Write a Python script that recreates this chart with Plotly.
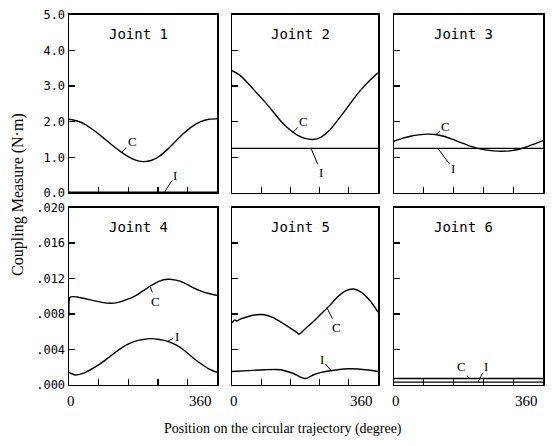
import plotly.graph_objects as go

W, H = 553, 446

# ---------------- data ----------------
deg = [0, 20, 40, 60, 80, 100, 120, 140, 160, 180, 200, 220, 240, 260, 280, 300, 320, 340, 360]

j1_c = [2.07, 2.02, 1.92, 1.76, 1.58, 1.39, 1.21, 1.05, 0.93, 0.88, 0.91, 1.03, 1.23, 1.46, 1.68, 1.87, 2.00, 2.07, 2.08]
j1_i = [0.02] * len(deg)

j2_c = [3.43, 3.30, 3.07, 2.82, 2.57, 2.30, 2.02, 1.80, 1.63, 1.53, 1.50, 1.57, 1.75, 2.03, 2.33, 2.64, 2.92, 3.16, 3.37]
j2_i = [1.25] * len(deg)

j3_c = [1.45, 1.53, 1.59, 1.63, 1.65, 1.64, 1.59, 1.51, 1.42, 1.33, 1.26, 1.21, 1.18, 1.17, 1.18, 1.22, 1.29, 1.38, 1.47]
j3_i = [1.25] * len(deg)

j4_c_deg = [0, 3, 20, 40, 60, 80, 100, 120, 140, 160, 180, 200, 220, 240, 260, 280, 300, 320, 340, 360]
j4_c = [0.0078, 0.0099, 0.0099, 0.0097, 0.0095, 0.0093, 0.0092, 0.0093, 0.0096, 0.0100, 0.0106,
        0.0112, 0.0117, 0.0119, 0.0118, 0.0115, 0.0110, 0.0106, 0.0103, 0.0101]
j4_i_deg = [0, 15, 40, 60, 80, 100, 120, 140, 160, 180, 200, 220, 240, 260, 280, 300, 320, 340, 360]
j4_i = [0.0014, 0.0011, 0.0014, 0.0019, 0.0025, 0.0032, 0.0039, 0.0045, 0.0049, 0.0051,
        0.0052, 0.0051, 0.0049, 0.0045, 0.0039, 0.0031, 0.0024, 0.0018, 0.0014]

j5_c_deg = [0, 6, 12, 20, 40, 60, 80, 100, 120, 140, 160, 165, 180, 200, 220, 240, 260, 280, 300, 320, 340, 360]
j5_c = [0.0070, 0.0073, 0.0072, 0.0074, 0.0077, 0.0079, 0.0079, 0.0076, 0.0071, 0.0065, 0.0059,
        0.0057, 0.0063, 0.0071, 0.0080, 0.0089, 0.0099, 0.0106, 0.0108, 0.0104, 0.0095, 0.0082]
j5_i_deg = [0, 40, 80, 120, 150, 180, 200, 220, 260, 290, 330, 360]
j5_i = [0.0015, 0.0016, 0.0017, 0.0017, 0.0013, 0.0007, 0.0011, 0.0014, 0.0017, 0.0018, 0.0017, 0.0015]

j6_c = [0.0007] * len(deg)
j6_i = [0.0003] * len(deg)

titles = ["Joint 1", "Joint 2", "Joint 3", "Joint 4", "Joint 5", "Joint 6"]
top_ticks = [0, 1, 2, 3, 4, 5]
top_labels = ["0.0", "1.0", "2.0", "3.0", "4.0", "5.0"]
bot_ticks = [0, 0.004, 0.008, 0.012, 0.016, 0.020]
bot_labels = [".000", ".004", ".008", ".012", ".016", ".020"]
x_ticks = [72, 144, 216, 288]

# label anchor: (panel, series, degree, value, ax, ay)
labels = [
    (1, "C", 127, 1.12, 11, -12),
    (1, "I", 232, 0.02, 11, -17),
    (2, "C", 150, 1.70, 11, -11),
    (2, "I", 195, 1.25, 10, 24),
    (3, "C", 101, 1.64, 10, -8),
    (3, "I", 106, 1.25, 15, 20),
    (4, "C", 197, 0.0111, 6, 15),
    (4, "I", 240, 0.0049, 9, -5),
    (5, "C", 234, 0.0087, 10, 20),
    (5, "I", 244, 0.0016, -9, -11),
    (6, "C", 181, 0.0007, -7, -12),
    (6, "I", 203, 0.0003, 8, -16),
]

# ---------------- layout geometry ----------------
cols_px = [(69, 217), (232, 378), (394, 543)]
rows_px = [(8, 192), (207, 390)]

series = [
    (deg, j1_c, deg, j1_i),
    (deg, j2_c, deg, j2_i),
    (deg, j3_c, deg, j3_i),
    (j4_c_deg, j4_c, j4_i_deg, j4_i),
    (j5_c_deg, j5_c, j5_i_deg, j5_i),
    (deg, j6_c, deg, j6_i),
]

fig = go.Figure()
layout = dict(
    width=W, height=H, margin=dict(l=0, r=0, t=0, b=0),
    paper_bgcolor="white", plot_bgcolor="white", showlegend=False,
    hovermode=False,
)
annotations = []
line_style = dict(color="black", width=1.4, shape="spline", smoothing=0.7)

for k in range(6):
    n = k + 1
    r, c = divmod(k, 3)
    x0, x1 = cols_px[c]
    y0, y1 = rows_px[r]
    xa = "xaxis" if n == 1 else f"xaxis{n}"
    ya = "yaxis" if n == 1 else f"yaxis{n}"
    xr = "x" if n == 1 else f"x{n}"
    yr = "y" if n == 1 else f"y{n}"
    xc, yc, xi, yi = series[k]
    fig.add_trace(go.Scatter(x=xc, y=yc, mode="lines", line=line_style, xaxis=xr, yaxis=yr))
    fig.add_trace(go.Scatter(x=xi, y=yi, mode="lines", line=line_style, xaxis=xr, yaxis=yr))

    layout[xa] = dict(
        domain=[x0 / W, x1 / W], range=[0, 360], anchor=yr,
        showline=True, mirror=True, linecolor="black", linewidth=1.5,
        ticks="inside", ticklen=6, tickwidth=1.4, tickcolor="black",
        tickvals=x_ticks, showticklabels=False, showgrid=False, zeroline=False,
    )
    if r == 0:
        yrange, tv, tt = [0, 5], top_ticks, top_labels
    else:
        yrange, tv, tt = [0, 0.020], bot_ticks, bot_labels
    layout[ya] = dict(
        domain=[1 - y1 / H, 1 - y0 / H], range=yrange, anchor=xr,
        showline=True, mirror=True, linecolor="black", linewidth=1.5,
        ticks="inside", ticklen=6, tickwidth=1.4, tickcolor="black",
        tickvals=tv, ticktext=tt, showticklabels=(c == 0),
        tickfont=dict(family="DejaVu Sans Mono", size=12, color="black"),
        showgrid=False, zeroline=False,
    )
    # panel title
    annotations.append(dict(
        text=titles[k], xref="paper", yref="paper",
        x=((x0 + x1) / 2 - 5) / W, y=1 - (y0 + 20) / H,
        showarrow=False, xanchor="center", yanchor="middle",
        font=dict(family="DejaVu Sans Mono", size=14, color="black"),
    ))
    if r == 1:
        annotations.append(dict(
            text="0", xref="paper", yref="paper", x=(x0 + 2) / W, y=1 - 407 / H,
            showarrow=False, xanchor="center", yanchor="middle",
            font=dict(family="Liberation Serif", size=15, color="black"),
        ))
        annotations.append(dict(
            text="360", xref="paper", yref="paper", x=(x1 - 3) / W, y=1 - 407 / H,
            showarrow=False, xanchor="right", yanchor="middle",
            font=dict(family="Liberation Serif", size=15, color="black"),
        ))

for (n, s, d, v, ax, ay) in labels:
    xr = "x" if n == 1 else f"x{n}"
    yr = "y" if n == 1 else f"y{n}"
    annotations.append(dict(
        text=s, x=d, y=v, xref=xr, yref=yr, showarrow=True, arrowhead=0,
        arrowwidth=1, arrowcolor="black", ax=ax, ay=ay, standoff=0,
        font=dict(family="Liberation Serif", size=13, color="black"),
    ))

annotations.append(dict(
    text="Coupling Measure (N\u00b7m)", xref="paper", yref="paper",
    x=18 / W, y=1 - 194 / H, textangle=-90, showarrow=False,
    xanchor="center", yanchor="middle",
    font=dict(family="Liberation Serif", size=16, color="black"),
))
annotations.append(dict(
    text="Position on the circular trajectory (degree)", xref="paper", yref="paper",
    x=283 / W, y=1 - 436 / H, showarrow=False, xanchor="center", yanchor="middle",
    font=dict(family="Liberation Serif", size=14, color="black"),
))

layout["annotations"] = annotations
fig.update_layout(**layout)
fig.write_html("out.html", config={"displayModeBar": False, "staticPlot": True},
               post_script="document.body.style.margin='0';document.body.style.overflow='hidden';")
